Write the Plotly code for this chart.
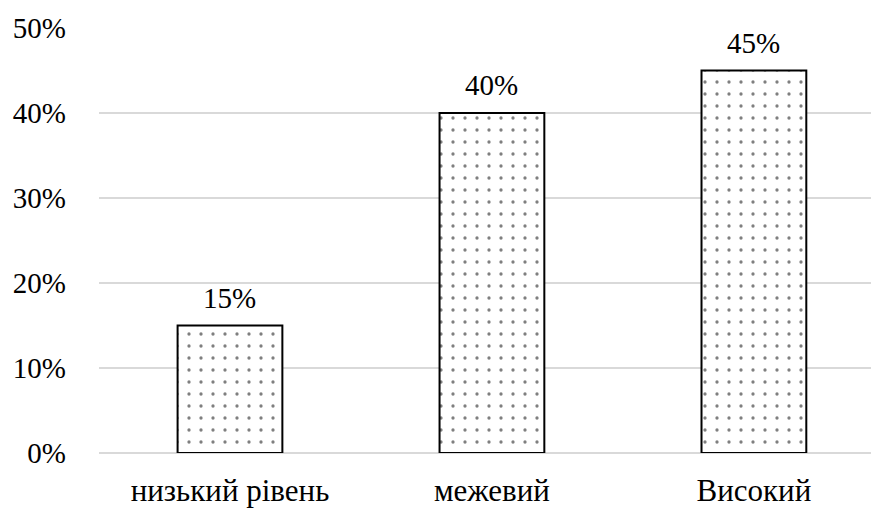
import plotly.graph_objects as go

categories = ["низький рівень", "межевий", "Високий"]
shares = [0.15, 0.40, 0.45]
y_ticks = [0, 0.1, 0.2, 0.3, 0.4, 0.5]
y_tick_labels = ["0%", "10%", "20%", "30%", "40%", "50%"]

FONT = "Liberation Serif, Times New Roman, serif"

fig = go.Figure(
    go.Bar(
        x=categories,
        y=shares,
        width=0.4,
        marker=dict(
            color="white",
            line=dict(color="black", width=2),
            pattern=dict(shape=".", fgcolor="black", bgcolor="white",
                         size=12, solidity=0.06, fillmode="overlay"),
        ),
    )
)

# value labels above each bar
for cat, v in zip(categories, shares):
    fig.add_annotation(
        x=cat, y=v, text=f"{v:.0%}", showarrow=False,
        yanchor="bottom", yshift=10,
        font=dict(family=FONT, size=29, color="black"),
    )

fig.update_layout(
    width=871,
    height=509,
    margin=dict(l=99, r=0, t=28, b=56),
    paper_bgcolor="white",
    plot_bgcolor="white",
    showlegend=False,
    font=dict(family=FONT, size=29, color="black"),
    xaxis=dict(
        range=[-0.5, 2.447],
        showgrid=False,
        showline=False,
        ticks="",
        ticklabelstandoff=16,
        tickfont=dict(family=FONT, size=31, color="black"),
    ),
    yaxis=dict(
        range=[0, 0.5],
        tickvals=y_ticks,
        ticktext=y_tick_labels,
        showgrid=True,
        gridcolor="#d9d9d9",
        gridwidth=2,
        zeroline=True,
        zerolinecolor="#d9d9d9",
        zerolinewidth=2,
        showline=False,
        ticks="",
        ticklabelstandoff=32,
        tickfont=dict(family=FONT, size=29, color="black"),
    ),
)

fig.write_html("out.html")
